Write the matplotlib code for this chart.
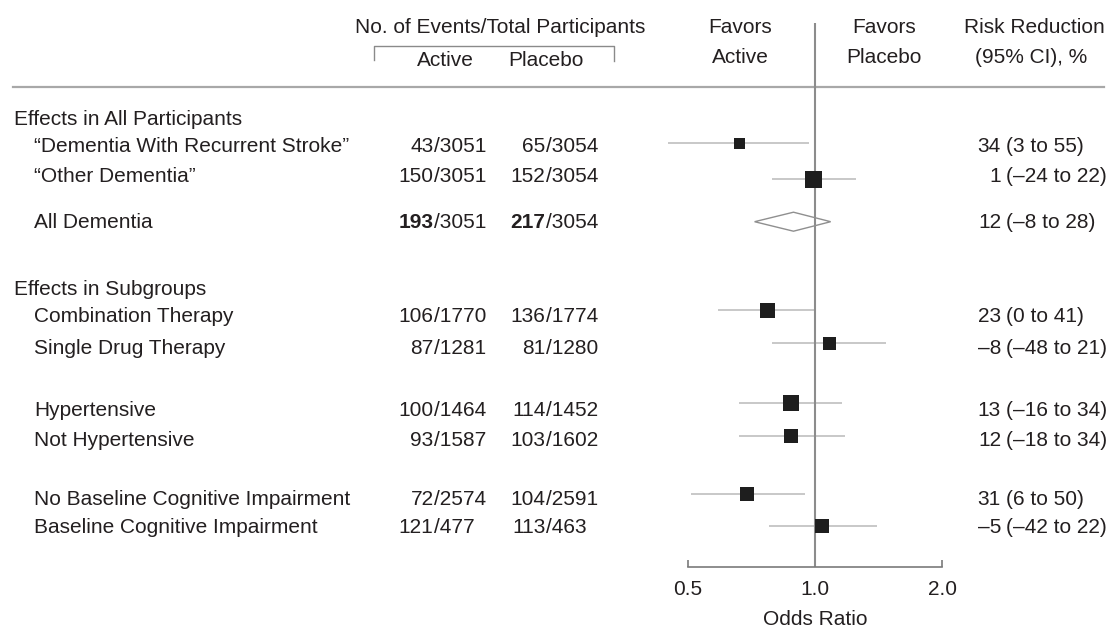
import matplotlib
matplotlib.use("Agg")
import matplotlib.pyplot as plt

plt.rcParams['font.family'] = ['Liberation Sans', 'DejaVu Sans']

# ---------------- data ----------------
section_titles = ["Effects in All Participants", "Effects in Subgroups"]
labels = ["\u201cDementia With Recurrent Stroke\u201d", "\u201cOther Dementia\u201d", "All Dementia",
          "Combination Therapy", "Single Drug Therapy",
          "Hypertensive", "Not Hypertensive",
          "No Baseline Cognitive Impairment", "Baseline Cognitive Impairment"]
active_events = [43, 150, 193, 106, 87, 100, 93, 72, 121]
active_total = [3051, 3051, 3051, 1770, 1281, 1464, 1587, 2574, 477]
placebo_events = [65, 152, 217, 136, 81, 114, 103, 104, 113]
placebo_total = [3054, 3054, 3054, 1774, 1280, 1452, 1602, 2591, 463]
odds_ratio = [0.66, 0.99, 0.89, 0.77, 1.08, 0.88, 0.88, 0.69, 1.04]
ci_low = [0.45, 0.79, 0.72, 0.59, 0.79, 0.66, 0.66, 0.51, 0.78]
ci_high = [0.97, 1.25, 1.09, 1.00, 1.47, 1.16, 1.18, 0.95, 1.40]
risk_red = [34, 1, 12, 23, -8, 13, 12, 31, -5]
risk_low = [3, -24, -8, 0, -48, -16, -18, 6, -42]
risk_high = [55, 22, 28, 41, 21, 34, 34, 50, 22]
marker_px = [11, 17, None, 15, 13, 16, 14, 14, 14]   # box size (weight)
is_summary = [False, False, True, False, False, False, False, False, False]
bold_row = [False, False, True, False, False, False, False, False, False]
xticks = [0.5, 1.0, 2.0]
xtick_labels = ["0.5", "1.0", "2.0"]

# ---------------- layout (pixel units) ----------------
W, H = 1118, 632
section_base = [125, 295]
row_base = [152.5, 181.5, 228, 322.5, 354.5, 416.5, 446.5, 505, 533]
row_mark = [142.7, 178.7, 221.7, 310, 343.3, 403.3, 435.7, 494, 525.7]
FS = 15
TXT = '#231f20'

fig = plt.figure(figsize=(W / 100, H / 100), dpi=100)
fig.patch.set_facecolor('white')

ax_t = fig.add_axes([0, 0, 1, 1])
ax_t.set_xlim(0, W)
ax_t.set_ylim(H, 0)
ax_t.axis('off')

x_lo_px, x_hi_px = 687.7, 942.0
ax = fig.add_axes([x_lo_px / W, 0, (x_hi_px - x_lo_px) / W, 1])
ax.set_xscale('log', base=2)
ax.set_xlim(0.5, 2.0)
ax.set_ylim(H, 0)
ax.patch.set_alpha(0)
for s in ['top', 'left', 'right']:
    ax.spines[s].set_visible(False)
ax.spines['bottom'].set_position(('data', 567))
ax.spines['bottom'].set_color('#7a7a7a')
ax.spines['bottom'].set_linewidth(1.2)
ax.set_yticks([])
ax.set_xticks(xticks)
ax.set_xticklabels(xtick_labels)
ax.minorticks_off()
ax.tick_params(axis='x', direction='in', length=5, width=1.2, color='#7a7a7a',
               labelsize=FS, labelcolor=TXT, pad=9.5)

# header texts
def t(x, y, s, ha='left', **kw):
    ax_t.text(x, y, s, ha=ha, va='baseline', fontsize=FS, color=TXT, **kw)

t(500, 33, "No. of Events/Total Participants", ha='center')
t(445, 66.5, "Active", ha='center')
t(546, 66.5, "Placebo", ha='center')
t(740, 33, "Favors", ha='center')
t(740, 63.3, "Active", ha='center')
t(884, 33, "Favors", ha='center')
t(884, 63.3, "Placebo", ha='center')
t(1034, 33, "Risk Reduction", ha='center')
t(1031, 63.3, "(95% CI), %", ha='center')

ax_t.plot([374, 374, 614, 614], [60, 46, 46, 61], color='#8a8a8a', lw=1.0)
ax_t.plot([13, 1104], [87, 87], color='#a8a8a8', lw=1.6)
t(815, 625, "Odds Ratio", ha='center')

# section titles
t(14, section_base[0], section_titles[0])
t(14, section_base[1], section_titles[1])

# reference line at OR = 1
ax.vlines(1.0, 23, 567, color='#8c8c8c', lw=1.5, zorder=2)

def fmt(v):
    return str(v).replace('-', '\u2013')

act_slash, pla_slash = 433.5, 545.5
for i, lab in enumerate(labels):
    yb = row_base[i]
    t(34, yb, lab)
    wt = 'bold' if bold_row[i] else 'normal'
    t(act_slash, yb, str(active_events[i]), ha='right', fontweight=wt)
    t(act_slash, yb, "/" + str(active_total[i]))
    t(pla_slash, yb, str(placebo_events[i]), ha='right', fontweight=wt)
    t(pla_slash, yb, "/" + str(placebo_total[i]))
    t(1001, yb, fmt(risk_red[i]), ha='right')
    t(1006, yb, "(" + fmt(risk_low[i]) + " to " + fmt(risk_high[i]) + ")")

    ym = row_mark[i]
    if is_summary[i]:
        h = 9.5
        ax.fill([ci_low[i], odds_ratio[i], ci_high[i], odds_ratio[i]],
                [ym, ym - h, ym, ym + h], facecolor='none', edgecolor='#8f8f8f',
                lw=1.0, zorder=3, clip_on=False)
    else:
        ax.hlines(ym, ci_low[i], ci_high[i], color='#c8c8c8', lw=1.4, zorder=1, clip_on=False)
        side = marker_px[i] * 0.72
        ax.scatter([odds_ratio[i]], [ym], marker='s', s=side ** 2, color='#1e1e1e',
                   linewidths=0, zorder=4, clip_on=False)

fig.savefig("out.png", dpi=100, facecolor='white')
